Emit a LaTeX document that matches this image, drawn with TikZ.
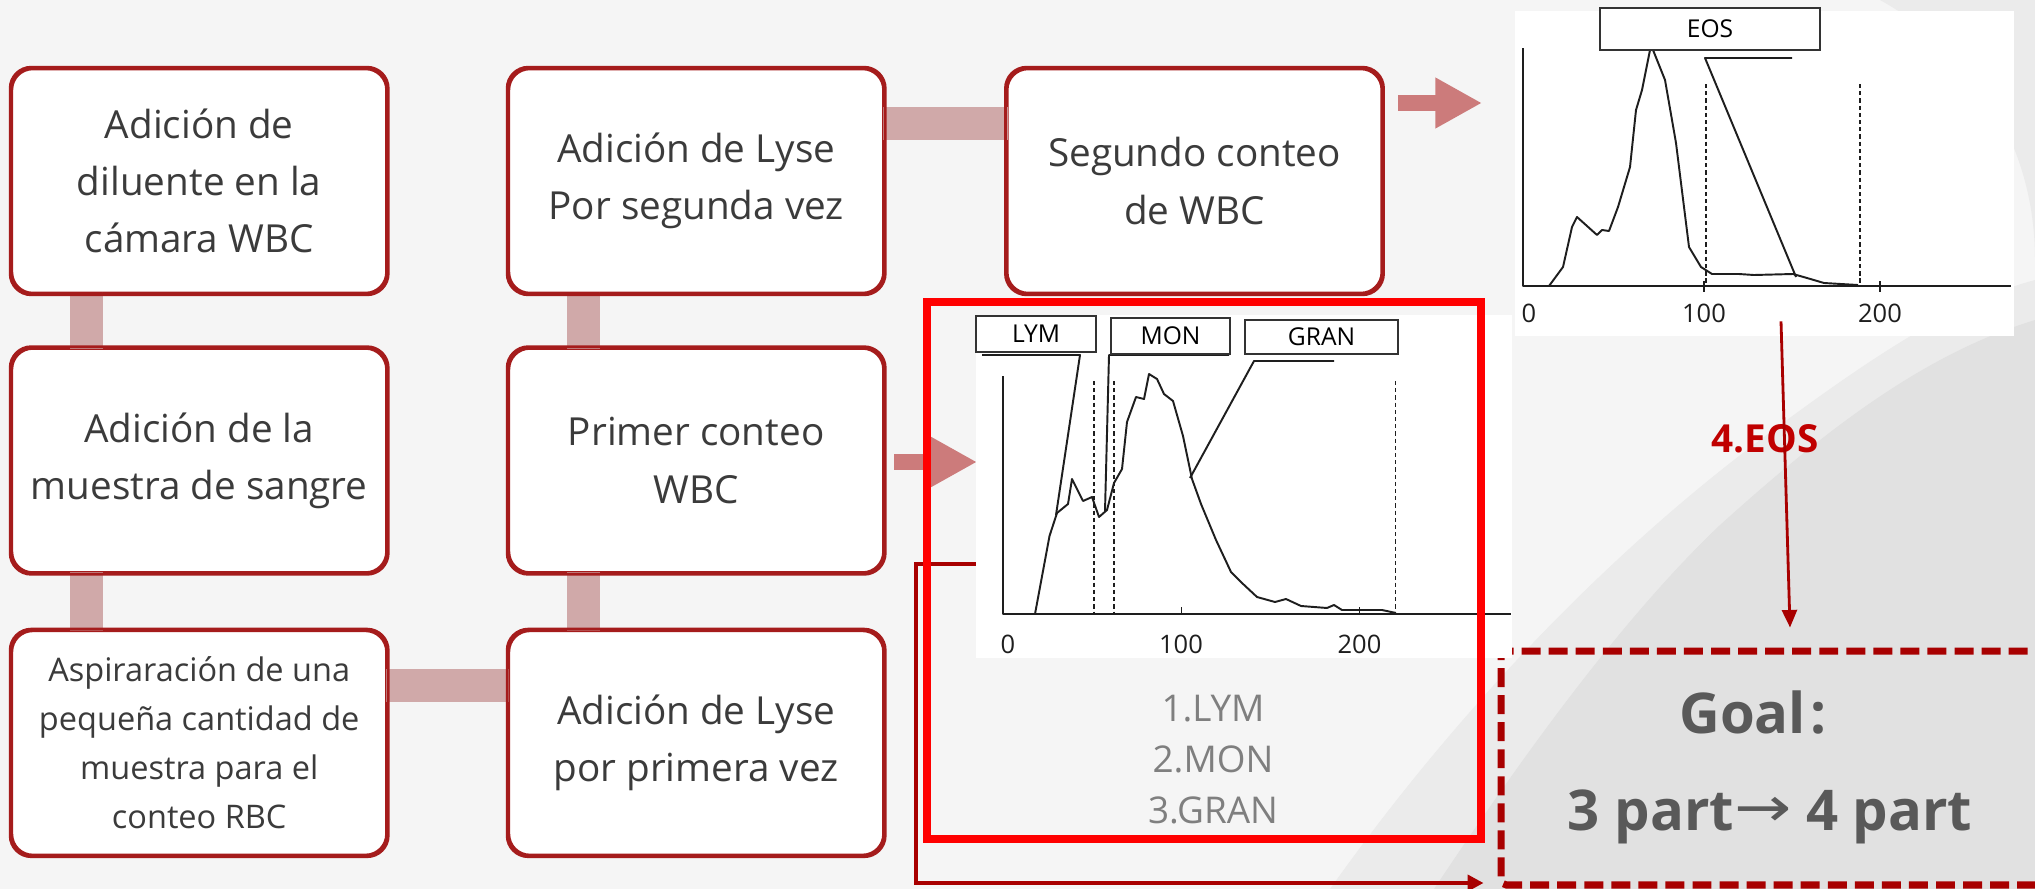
\documentclass[tikz,border=0pt]{standalone}
\usepackage{fontspec}
\setmainfont{Open Sans}
\newfontfamily\arrowfont{DejaVu Sans}
\usetikzlibrary{arrows.meta,calc}
\definecolor{bg}{HTML}{F5F5F5}
\definecolor{bgmid}{HTML}{EBEBEB}
\definecolor{bgdark}{HTML}{E1E1E1}
\definecolor{boxred}{HTML}{A51C1C}
\definecolor{barpink}{HTML}{D0A9A9}
\definecolor{arrowpink}{HTML}{CC7B7B}
\definecolor{dred}{HTML}{A80000}
\definecolor{txt}{HTML}{3B3B3B}
\definecolor{brightred}{HTML}{FF0000}
\definecolor{goalgray}{HTML}{595959}
\definecolor{listgray}{HTML}{7F7F7F}
\definecolor{eosred}{HTML}{C00000}
\definecolor{plotline}{HTML}{1E1E1E}
\begin{document}
\begin{tikzpicture}[x=0.02cm,y=-0.02cm,
  stepbox/.style={draw=boxred, line width=1.7pt, fill=white, rounded corners=12pt,
    minimum width=7.5cm, minimum height=4.49cm, align=center, text=txt,
    font=\fontsize{22}{32.5}\selectfont, inner sep=0pt},
  smallstep/.style={stepbox, font=\fontsize{18.5}{28}\selectfont},
  bar/.style={draw=barpink, line width=18.8pt},
  fatarrow/.style={draw=arrowpink, line width=8.8pt, -{Triangle[width=27pt,length=26.5pt]}},
  chartbg/.style={fill=white, draw=none, inner sep=0pt},
  plotln/.style={draw=plotline, line width=1.1pt, line join=round},
  dashv/.style={draw=plotline, line width=1.1pt, dash pattern=on 2.4pt off 1.7pt},
  lbl/.style={draw=black!80, line width=1.2pt, fill=white, inner sep=0pt,
    font=\fontsize{14}{16}\selectfont},
  tick/.style={font=\fontsize{14.5}{16}\selectfont, text=plotline, inner sep=0pt},
  dline/.style={draw=dred, line width=2.2pt, -{Triangle[width=9pt,length=9pt]}},
  thinarrow/.style={draw=dred, line width=1.6pt, -{Triangle[width=8.5pt,length=10pt]}}
]
\clip (0,0) rectangle (2035,889);
\useasboundingbox (0,0) rectangle (2035,889);
% background
\fill[bg] (0,0) rectangle (2035,889);
\fill[bgmid] (1330,889) .. controls (1450,720) and (1600,560) .. (1760,440)
   .. controls (1880,350) and (1960,300) .. (2035,280) -- (2035,889) -- cycle;
\fill[bgdark] (1434,889) .. controls (1520,760) and (1620,620) .. (1720,525)
   .. controls (1820,435) and (1920,355) .. (2035,320) -- (2035,889) -- cycle;
\fill[bgmid] (1880,0) .. controls (1970,50) and (2035,140) .. (2035,260) -- (2035,0) -- cycle;

% boxes
\node[stepbox] (b1) at (199.2,181) {Adición de\\diluente en la\\cámara WBC};
\node[stepbox] (b2) at (199.2,460.5) {Adición de la\\muestra de sangre};
\node[smallstep] (b3) at (199.2,742.9) {Aspiraración de una\\pequeña cantidad de\\muestra para el\\conteo RBC};
\node[stepbox] (b4) at (696.2,181) {Adición de Lyse\\Por segunda vez};
\node[stepbox] (b5) at (696.2,460.5) {Primer conteo\\WBC};
\node[stepbox] (b6) at (696.2,742.9) {Adición de Lyse\\por primera vez};
\node[stepbox] (b7) at (1194.5,181) {Segundo conteo\\de WBC};

% bars
\draw[bar] ($(b1.south west)+(76,-2)$) -- ($(b2.north west)+(76,2)$);
\draw[bar] ($(b2.south west)+(76,-2)$) -- ($(b3.north west)+(76,2)$);
\draw[bar] ($(b4.south west)+(76,-2)$) -- ($(b5.north west)+(76,2)$);
\draw[bar] ($(b5.south west)+(76,-2)$) -- ($(b6.north west)+(76,2)$);
\draw[bar] ($(b3.north east)+(-2,56)$) -- ($(b6.north west)+(2,56)$);
\draw[bar] ($(b4.north east)+(-2,56)$) -- ($(b7.north west)+(2,56)$);
\foreach \n in {b1,b2,b3,b4,b5,b6,b7}{
  \draw[boxred, line width=1.7pt, rounded corners=12pt] (\n.south west) rectangle (\n.north east);
}

% fat arrows
\coordinate (a1s) at (1398,103);
\coordinate (a1e) at (1482,103);
\draw[fatarrow] (a1s) -- (a1e);
\coordinate (a2s) at (894,462);
\coordinate (a2e) at (977,462);
\draw[fatarrow] (a2s) -- (a2e);

% goal box
\node[draw=dred, line width=4pt, dash pattern=on 10.8pt off 4.6pt, rounded corners=3pt,
  minimum width=11.18cm, minimum height=4.68cm, inner sep=0pt] (goal) at (1780.5,768) {};
\node[text=goalgray, font=\bfseries\fontsize{32}{36}\selectfont, anchor=base, inner sep=0pt] (goalt) at (1753,733) {Goal\hspace{2.5pt}:};
\node[text=goalgray, font=\bfseries\fontsize{32}{36}\selectfont, anchor=base, inner sep=0pt] (parts) at (1770,830) {3 part\raisebox{2pt}{\scalebox{1.3}[1.05]{\arrowfont\mdseries\fontsize{30}{36}\selectfont →}} 4 part};

% EOS chart
\node[chartbg, minimum width=9.98cm, minimum height=6.5cm] (eoschart) at (1764.5,173.5) {};
\draw[plotln] (1523,48) -- (1523,286) -- (2011,286);
\draw[plotln] (1704,281) -- (1704,292) (1880,281) -- (1880,292);
\draw[dashv] (1706,84) -- (1706,285);
\draw[dashv] (1860,84) -- (1860,285);
\draw[plotln] (1549,286) -- (1563,267) -- (1572,227) -- (1577,217) -- (1597,235) -- (1602,230)
  -- (1609,231) -- (1618,207) -- (1630,167) -- (1636,110) -- (1642,90) -- (1650,50) -- (1653,50)
  -- (1665,80) -- (1676,143) -- (1689,247) -- (1701,267) -- (1712,274) -- (1739,274) -- (1754,275)
  -- (1793,274) -- (1807,278) -- (1824,283) -- (1858,285);
\draw[plotln] (1792,58) -- (1705,58) -- (1796,277);
\node[lbl, minimum width=4.4cm, minimum height=0.84cm] (eoslbl) at (1710,29) {EOS};
\node[tick] (e0) at (1529,313) {0};
\node[tick] (e100) at (1704,313) {100};
\node[tick] (e200) at (1880,313) {200};

% LYM chart
\node[chartbg, minimum width=10.72cm, minimum height=6.86cm] (lymchart) at (1244,486.5) {};
\draw[dline] ($(lymchart.west)+(0,77.5)$) -- ++(-60,0) |- ($(goal.west)+(-14,115)$);
\draw[plotln] (1003,376) -- (1003,614) -- (1511,614);
\draw[plotln] (1181.5,607) -- (1181.5,614) (1359.5,607) -- (1359.5,614);
\draw[dashv] (1094,381) -- (1094,613);
\draw[dashv] (1114,381) -- (1114,613);
\draw[dashv] (1395.5,381) -- (1395.5,613);
\draw[plotln] (1035,614) -- (1049.5,536) -- (1057,513) -- (1068,504) -- (1072,479) -- (1083,501)
  -- (1092,497) -- (1099,517) -- (1107,510) -- (1114,483) -- (1122,469) -- (1127,422) -- (1136,397)
  -- (1144,399) -- (1149,374) -- (1157,379) -- (1164,394) -- (1173,401) -- (1183,436) -- (1192,479)
  -- (1201,504) -- (1216,540) -- (1231,572) -- (1242,583) -- (1257,597) -- (1275,602) -- (1286,599)
  -- (1301,606) -- (1327,608) -- (1334,605) -- (1342,610) -- (1382,610) -- (1396,613);
\draw[plotln] (982,355) -- (1080,355) -- (1056,515);
\draw[plotln] (1229,355) -- (1109,355) -- (1105,511);
\draw[plotln] (1334,361) -- (1254,361) -- (1190,478);
\node[lbl, minimum width=2.4cm, minimum height=0.72cm] (lym) at (1036,334) {LYM};
\node[lbl, minimum width=2.38cm, minimum height=0.72cm] (mon) at (1170.5,336) {MON};
\node[lbl, minimum width=3.06cm, minimum height=0.68cm] (gran) at (1321.5,337) {GRAN};
\node[tick] (l0) at (1008,644) {0};
\node[tick] (l100) at (1181,644) {100};
\node[tick] (l200) at (1359.5,644) {200};

% red frame
\node[draw=brightred, line width=4.55pt, minimum width=11.088cm, minimum height=10.74cm, inner sep=0pt] (redbox) at (1203.8,570.5) {};
\node[align=center, text=listgray, font=\fontsize{21}{29}\selectfont, inner sep=0pt] (list) at (1213,760) {1.LYM\\2.MON\\3.GRAN};

% EOS arrow
\node[text=eosred, font=\bfseries\fontsize{22}{26}\selectfont, inner sep=0pt] (eoslab) at (1765,439) {4.EOS};
\draw[thinarrow] ($(eoschart.south)+(16.5,-15)$) -- ($(goal.north)+(9.5,-20)$);
\end{tikzpicture}
\end{document}
